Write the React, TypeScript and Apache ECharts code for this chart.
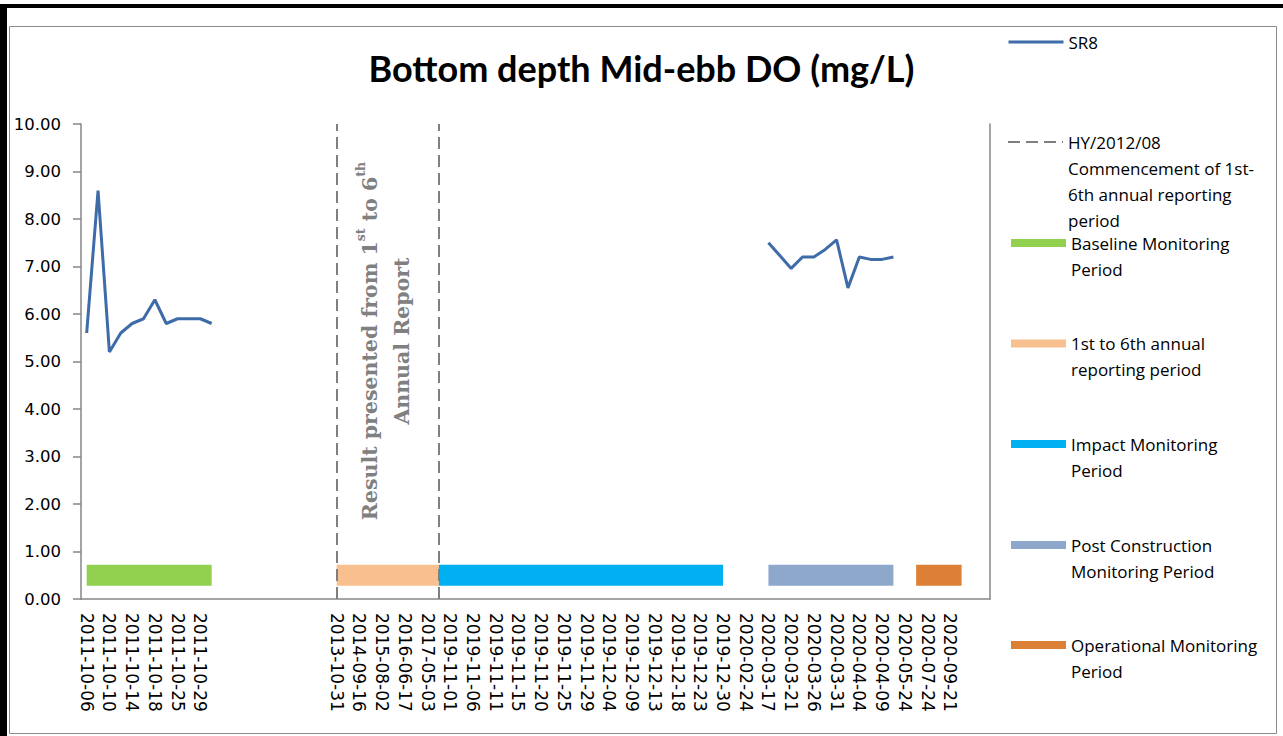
import React, { useEffect, useRef } from "react";
import * as echarts from "echarts";

// ---- Data ----
const categories: string[] = [
  "2011-10-06", "", "2011-10-10", "", "2011-10-14", "", "2011-10-18", "", "2011-10-25", "", "2011-10-29", "",
  "", "", "", "", "", "", "", "", "", "",
  "2013-10-31", "", "2014-09-16", "", "2015-08-02", "", "2016-06-17", "", "2017-05-03", "",
  "2019-11-01", "", "2019-11-06", "", "2019-11-11", "", "2019-11-15", "", "2019-11-20", "",
  "2019-11-25", "", "2019-11-29", "", "2019-12-04", "", "2019-12-09", "", "2019-12-13", "",
  "2019-12-18", "", "2019-12-23", "", "2019-12-30", "", "2020-02-24", "", "2020-03-17", "",
  "2020-03-21", "", "2020-03-26", "", "2020-03-31", "", "2020-04-04", "", "2020-04-09", "",
  "2020-05-24", "", "2020-07-24", "", "2020-09-21", "", "", "",
];

// SR8 measured values (mg/L), two monitoring segments
const sr8BaselineStart = 0;
const sr8BaselineValues = [5.6, 8.6, 5.2, 5.6, 5.8, 5.9, 6.3, 5.8, 5.9, 5.9, 5.9, 5.8];
const sr8PostStart = 60;
const sr8PostValues = [7.5, 7.23, 6.96, 7.2, 7.2, 7.36, 7.56, 6.55, 7.2, 7.15, 7.15, 7.2];

// Reporting-period markers: category index ranges, drawn at a fixed level
const periodLevel = 0.5;
const periodNames = [
  "Baseline Monitoring\nPeriod",
  "1st to 6th annual\nreporting period",
  "Impact Monitoring\nPeriod",
  "Post Construction\nMonitoring Period",
  "Operational Monitoring\nPeriod",
];
const periodStart = [0, 22, 31, 60, 73];
const periodEnd = [11, 31, 56, 71, 77];
const periodColors = ["#92d050", "#f9c08f", "#00b0f0", "#8ea8cc", "#dc8036"];

// Commencement markers (category indices)
const hyName = "HY/2012/08\nCommencement of 1st-\n6th annual reporting\nperiod";
const hyMarks = [22, 31];

const yTicks = { min: 0, max: 10, interval: 1 };

export default function App() {
  const ref = useRef<HTMLDivElement>(null);

  useEffect(() => {
    if (!ref.current) return;
    const chart = echarts.init(ref.current, undefined, { renderer: "svg" });

    const n = categories.length;
    const sr8: (number | null)[] = new Array(n).fill(null);
    sr8BaselineValues.forEach((v, i) => (sr8[sr8BaselineStart + i] = v));
    sr8PostValues.forEach((v, i) => (sr8[sr8PostStart + i] = v));

    const periodSeries = periodNames.map((name, k) => {
      const d: (number | null)[] = new Array(n).fill(null);
      for (let i = periodStart[k]; i <= periodEnd[k]; i++) d[i] = periodLevel;
      return {
        name,
        type: "line",
        data: d,
        symbol: "none",
        connectNulls: false,
        z: 2,
        itemStyle: { color: periodColors[k] },
        lineStyle: { color: periodColors[k], width: 21, cap: "butt" },
      };
    });

    const gray = "#868686";
    const L = 26;
    const legendFont = {
      fontFamily: "Open Sans",
      fontSize: 17,
      color: "#000",
      lineHeight: L,
    };
    const legendItems = [
      { name: "SR8", lines: 1, cy: 42, width: 3 },
      { name: hyName, lines: 4, cy: 142, width: 2 },
      ...periodNames.map((nm, k) => ({
        name: nm,
        lines: 2,
        cy: [243, 343.5, 444, 545, 645][k],
        width: 8,
      })),
    ];
    const legends = legendItems.map((it) => ({
      data: [it.name],
      left: 1007,
      top: it.cy - ((2 * it.lines - 1) * L) / 2,
      orient: "vertical",
      padding: 0,
      itemGap: 0,
      itemWidth: 55,
      itemHeight: 14,
      selectedMode: false,
      itemStyle: { opacity: 0 },
      lineStyle: { width: it.width, cap: "butt" },
      // blank lines before the name keep the first line level with the icon
      formatter: (name: string) => "\n".repeat(it.lines - 1) + name,
      textStyle: legendFont,
    }));

    const option: any = {
      animation: false,
      title: {
        text: "Bottom depth Mid-ebb DO (mg/L)",
        left: "center",
        top: 45,
        textStyle: {
          fontFamily: "Lato",
          fontWeight: "bold",
          fontSize: 36,
          color: "#000",
        },
      },
      legend: legends,
      grid: { left: 81, right: 293, top: 124, bottom: 137, containLabel: false },
      xAxis: {
        type: "category",
        data: categories,
        boundaryGap: true,
        axisLine: { lineStyle: { color: gray, width: 1.5 } },
        axisTick: { interval: 3, length: 7, lineStyle: { color: gray, width: 1.5 } },
        axisLabel: {
          interval: 1,
          rotate: -90,
          margin: 14,
          color: "#000",
          fontFamily: "DejaVu Sans",
          fontSize: 17,
        },
        splitLine: { show: false },
      },
      yAxis: [
        {
          type: "value",
          min: yTicks.min,
          max: yTicks.max,
          interval: yTicks.interval,
          axisLine: { show: true, lineStyle: { color: gray, width: 1.5 } },
          axisTick: { show: true, length: 8, lineStyle: { color: gray, width: 1.5 } },
          axisLabel: {
            margin: 20,
            color: "#000",
            fontFamily: "DejaVu Sans",
            fontSize: 16.5,
            formatter: (v: number) => v.toFixed(2),
          },
          splitLine: { show: false },
        },
        {
          type: "value",
          position: "right",
          min: yTicks.min,
          max: yTicks.max,
          interval: yTicks.interval,
          axisLine: { show: true, lineStyle: { color: gray, width: 1.5 } },
          axisTick: { show: false },
          axisLabel: { show: false },
          splitLine: { show: false },
        },
      ],
      series: [
        {
          name: "SR8",
          type: "line",
          data: sr8,
          symbol: "none",
          connectNulls: false,
          z: 5,
          itemStyle: { color: "#3d6ca8" },
          lineStyle: { color: "#3d6ca8", width: 3 },
        },
        {
          name: hyName,
          type: "line",
          data: [],
          symbol: "none",
          itemStyle: { color: "#7f7f7f" },
          lineStyle: { color: "#7f7f7f", width: 2, type: [12, 6] },
          markLine: {
            silent: true,
            symbol: ["none", "none"],
            label: { show: false },
            lineStyle: { color: "#7f7f7f", width: 2, type: [12, 6] },
            data: hyMarks.map((x) => ({ xAxis: x })),
          },
        },
        ...periodSeries,
      ],
      graphic: [
        { type: "rect", shape: { x: 0, y: 6, width: 7, height: 730 }, style: { fill: "#000" }, silent: true },
        { type: "rect", shape: { x: 0, y: 4, width: 1283, height: 4 }, style: { fill: "#000" }, silent: true },
        {
          type: "rect",
          shape: { x: 9.5, y: 26.5, width: 1267, height: 707 },
          style: { fill: "none", stroke: "#8c8c8c", lineWidth: 1 },
          silent: true,
        },
        {
          type: "text",
          x: 386,
          y: 341,
          rotation: Math.PI / 2,
          silent: true,
          style: {
            text: "{a|Result presented from 1}{s|st}{a| to 6}{s|th}\n{a|Annual Report}",
            align: "center",
            verticalAlign: "middle",
            fill: "#808080",
            rich: {
              a: {
                fontFamily: "DejaVu Serif",
                fontWeight: "bold",
                fontSize: 20.5,
                lineHeight: 32,
                fill: "#808080",
              },
              s: {
                fontFamily: "DejaVu Serif",
                fontWeight: "bold",
                fontSize: 12.5,
                lineHeight: 32,
                verticalAlign: "top",
                fill: "#808080",
              },
            },
          },
        },
      ],
    };

    chart.setOption(option);
    return () => chart.dispose();
  }, []);

  return (
    <div
      ref={ref}
      style={{ position: "absolute", left: 0, top: 0, width: 1283, height: 736, background: "#fff" }}
    />
  );
}
